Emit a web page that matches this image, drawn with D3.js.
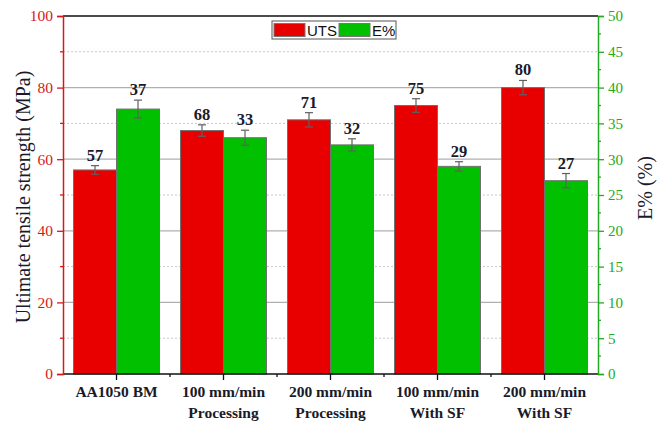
<!DOCTYPE html>
<html>
<head>
<meta charset="utf-8">
<script src="https://cdn.jsdelivr.net/npm/d3@7"></script>
<style>
  body { margin: 0; background: #fff; }
  svg { display: block; }
</style>
</head>
<body>
<svg id="chart" width="666" height="428"></svg>
<script>
// Tensile results per processing condition
const categories = [
  ["AA1050 BM"],
  ["100 mm/min", "Processing"],
  ["200 mm/min", "Processing"],
  ["100 mm/min", "With SF"],
  ["200 mm/min", "With SF"]
];
const utsValues = [57, 68, 71, 75, 80];
const utsErrors = [1.2, 1.6, 2.0, 1.9, 2.0];
const elongValues = [37, 33, 32, 29, 27];
const elongErrors = [1.25, 1.05, 0.85, 0.65, 1.0];
const leftTicks = [0, 20, 40, 60, 80, 100];
const rightTicks = [0, 5, 10, 15, 20, 25, 30, 35, 40, 45, 50];

const svg = d3.select("#chart");
const m = { left: 63, right: 598, top: 16, bottom: 374 };
const serif = "'Liberation Serif', 'DejaVu Serif', serif";
const RED = "#e80000", GREEN = "#00c000";
const AXRED = "#d81818", AXGREEN = "#22aa22";

const x = d3.scaleBand().domain(d3.range(categories.length)).range([m.left, m.right]).padding(0);
const yL = d3.scaleLinear().domain([0, 100]).range([m.bottom, m.top]);
const yR = d3.scaleLinear().domain([0, 50]).range([m.bottom, m.top]);

// grid: major solid, minor dotted
const g = svg.append("g");
[20, 40, 60, 80].forEach(v => g.append("line")
  .attr("x1", m.left).attr("x2", m.right).attr("y1", yL(v)).attr("y2", yL(v))
  .attr("stroke", "#b0b0b0").attr("stroke-width", 1.2));
[10, 30, 50, 70, 90].forEach(v => g.append("line")
  .attr("x1", m.left).attr("x2", m.right).attr("y1", yL(v)).attr("y2", yL(v))
  .attr("stroke", "#c8c8c8").attr("stroke-width", 1).attr("stroke-dasharray", "2,2"));

// bars
const barW = 43;
const cx = i => x(i) + x.bandwidth() / 2;

function drawSeries(vals, errs, scale, color, side) {
  vals.forEach((v, i) => {
    const x0 = side < 0 ? cx(i) - barW : cx(i);
    svg.append("rect")
      .attr("x", x0).attr("y", scale(v)).attr("width", barW).attr("height", scale(0) - scale(v))
      .attr("fill", color).attr("stroke", "#707070").attr("stroke-width", 1);
    const ex = x0 + barW / 2;
    const yt = scale(v + errs[i]), yb = scale(v - errs[i]);
    const eb = svg.append("g").attr("stroke", "#606060").attr("stroke-width", 1.2);
    eb.append("line").attr("x1", ex).attr("x2", ex).attr("y1", yt).attr("y2", yb);
    eb.append("line").attr("x1", ex - 4).attr("x2", ex + 4).attr("y1", yt).attr("y2", yt);
    eb.append("line").attr("x1", ex - 4).attr("x2", ex + 4).attr("y1", yb).attr("y2", yb);
    svg.append("text")
      .attr("x", ex).attr("y", yt - 5)
      .attr("text-anchor", "middle")
      .attr("font-family", serif).attr("font-weight", "bold").attr("font-size", 16.5)
      .attr("fill", "#1a1a2a").text(v);
  });
}
drawSeries(utsValues, utsErrors, yL, RED, -1);
drawSeries(elongValues, elongErrors, yR, GREEN, 1);

// frame top
svg.append("line").attr("x1", m.left).attr("x2", m.right).attr("y1", m.top).attr("y2", m.top)
  .attr("stroke", "#111").attr("stroke-width", 1.5);

// bottom axis
const xAxis = svg.append("g").attr("transform", `translate(0,${m.bottom})`);
xAxis.append("line").attr("x1", m.left).attr("x2", m.right).attr("stroke", "#111").attr("stroke-width", 1.5);
categories.forEach((c, i) => {
  xAxis.append("line").attr("x1", cx(i)).attr("x2", cx(i)).attr("y1", 0).attr("y2", 6).attr("stroke", "#111").attr("stroke-width", 1.3);
  if (i > 0) xAxis.append("line").attr("x1", x(i)).attr("x2", x(i)).attr("y1", 0).attr("y2", 3).attr("stroke", "#111").attr("stroke-width", 1.3);
  const t = xAxis.append("text").attr("text-anchor", "middle")
    .attr("font-family", serif).attr("font-weight", "bold").attr("font-size", 15.5).attr("fill", "#1a1a2a");
  c.forEach((line, k) => t.append("tspan").attr("x", cx(i)).attr("y", 23 + k * 21).text(line));
});

// left axis
const lAxis = svg.append("g").attr("transform", `translate(${m.left},0)`)
  .call(d3.axisLeft(yL).tickValues(leftTicks).tickSize(6).tickPadding(4));
lAxis.selectAll("line").attr("stroke", AXRED).attr("stroke-width", 1.3);
lAxis.select(".domain").attr("stroke", AXRED).attr("stroke-width", 1.5);
lAxis.selectAll("text").attr("fill", AXRED).attr("font-family", serif).attr("font-size", 15.5);
[10, 30, 50, 70, 90].forEach(v => lAxis.append("line").attr("x1", -3).attr("x2", 0)
  .attr("y1", yL(v)).attr("y2", yL(v)).attr("stroke", AXRED).attr("stroke-width", 1.3));

// right axis
const rAxis = svg.append("g").attr("transform", `translate(${m.right},0)`)
  .call(d3.axisRight(yR).tickValues(rightTicks).tickSize(6).tickPadding(4));
rAxis.selectAll("line").attr("stroke", AXGREEN).attr("stroke-width", 1.3);
rAxis.select(".domain").attr("stroke", AXGREEN).attr("stroke-width", 1.5);
rAxis.selectAll("text").attr("fill", AXGREEN).attr("font-family", serif).attr("font-size", 15);
d3.range(2.5, 50, 5).forEach(v => rAxis.append("line").attr("x1", 0).attr("x2", 3)
  .attr("y1", yR(v)).attr("y2", yR(v)).attr("stroke", AXGREEN).attr("stroke-width", 1.3));

// axis titles
svg.append("text").attr("transform", `translate(30,${(m.top + m.bottom) / 2 + 2}) rotate(-90)`)
  .attr("text-anchor", "middle").attr("font-family", serif).attr("font-size", 20).attr("fill", "#1a1a2a")
  .text("Ultimate tensile strength (MPa)");
svg.append("text").attr("transform", `translate(652,${(m.top + m.bottom) / 2 - 7}) rotate(-90)`)
  .attr("text-anchor", "middle").attr("font-family", serif).attr("font-size", 20).attr("fill", "#1a1a2a")
  .text("E% (%)");

// legend
const leg = svg.append("g").attr("transform", "translate(272,21)");
leg.append("rect").attr("x", 0).attr("y", 0).attr("width", 124).attr("height", 18)
  .attr("fill", "#fff").attr("stroke", "#555").attr("stroke-width", 1);
const sans = "'Liberation Sans', Arial, sans-serif";
[["UTS", RED, 1], ["E%", GREEN, 66]].forEach(([lab, col, ox]) => {
  leg.append("rect").attr("x", ox + 1).attr("y", 2.5).attr("width", 31).attr("height", 13)
    .attr("fill", col).attr("stroke", "#777").attr("stroke-width", 1);
  leg.append("text").attr("x", ox + 34).attr("y", 14.5).attr("font-family", sans).attr("font-size", 15)
    .attr("fill", "#111").text(lab);
});
</script>
</body>
</html>
